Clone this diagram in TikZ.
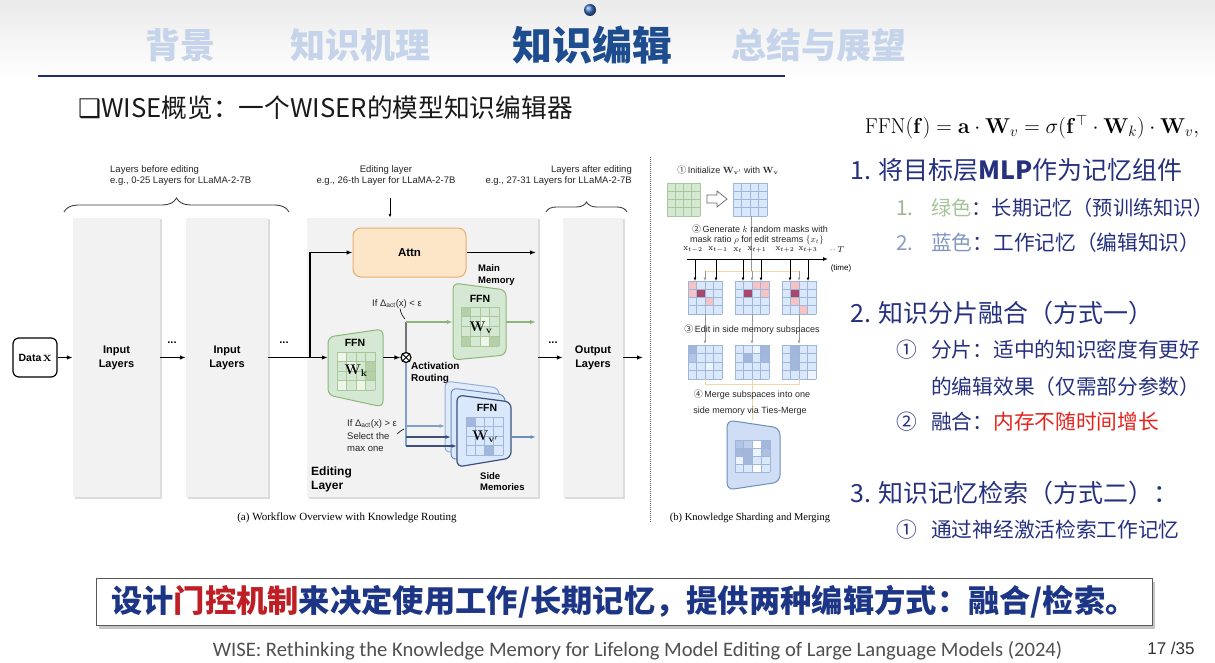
\RequirePackage{fix-cm}
\documentclass[tikz,border=0pt]{standalone}
\usepackage[no-math]{fontspec}
\setmainfont{Liberation Sans}
\newfontfamily\cjk{Noto Sans CJK SC}
\newfontfamily\serifen{Liberation Serif}
\newfontfamily\carl{Carlito}
\newfontfamily\dejavu{DejaVu Sans}
\usetikzlibrary{arrows.meta,shadows,calc,decorations.pathreplacing}

\definecolor{navyt}{HTML}{25307F}
\definecolor{tabl}{HTML}{C5D4EA}
\definecolor{tabd}{HTML}{1D4D8E}
\definecolor{hline}{HTML}{1F2F6A}
\definecolor{redt}{HTML}{E5231E}
\definecolor{boxred}{HTML}{BF1E24}
\definecolor{boxnavy}{HTML}{1C3585}
\definecolor{lgreen}{HTML}{A6C49A}
\definecolor{lgnum}{HTML}{9DB595}
\definecolor{lblue}{HTML}{8297C4}
\definecolor{lbnum}{HTML}{8B9CC3}
\definecolor{laygray}{HTML}{F2F2F2}
\definecolor{attnf}{HTML}{FDE5C8}
\definecolor{attnd}{HTML}{E6AE6E}
\definecolor{gfill}{HTML}{D5E8D4}
\definecolor{gdraw}{HTML}{8DB77A}
\definecolor{gdark}{HTML}{B5D0A8}
\definecolor{glite}{HTML}{EEF6EA}
\definecolor{gline}{HTML}{A9C99B}
\definecolor{bfill}{HTML}{DAE8FC}
\definecolor{bmerge}{HTML}{D0DEF5}
\definecolor{bdraw}{HTML}{6C8EBF}
\definecolor{bdark}{HTML}{A3B6DC}
\definecolor{blite}{HTML}{EEF4FD}
\definecolor{bline}{HTML}{9FB5DA}
\definecolor{bnavy}{HTML}{3F4F78}
\definecolor{pinkc}{HTML}{F6C3C5}
\definecolor{magc}{HTML}{A8466C}
\definecolor{brk}{HTML}{F2D7A6}
\definecolor{foot}{HTML}{505050}
\definecolor{dotblue}{HTML}{3A6FC4}

\newcommand{\mgrid}[7]{%
  \fill[#5] (#1,#2) rectangle ({#1+4*#3},{#2+4*#4});
  \foreach \ci/\cj/\cc in {#7}{\fill[fill=\cc] ({#1+\ci*#3},{#2+\cj*#4}) rectangle ({#1+(\ci+1)*#3},{#2+(\cj+1)*#4});}
  \foreach \gi in {0,...,4}{%
    \draw[#6,line width=0.6pt] ({#1+\gi*#3},#2) -- ({#1+\gi*#3},{#2+4*#4});
    \draw[#6,line width=0.6pt] (#1,{#2+\gi*#4}) -- ({#1+4*#3},{#2+\gi*#4});}%
}

\begin{document}
\begin{tikzpicture}[x=1pt,y=-1pt,
  arr/.style={-{Latex[length=6pt,width=4.5pt]},line width=1.3pt},
  garr/.style={arr,draw=gdraw},
  barr/.style={-{Latex[length=5.5pt,width=4pt]},line width=1.2pt},
  sarr/.style={-{Latex[length=3.5pt,width=3pt]},line width=0.7pt},
  layer/.style={fill=laygray,inner sep=0pt,font=\bfseries\fontsize{11}{14}\selectfont,align=center,
    drop shadow={shadow xshift=1.5pt,shadow yshift=-1.5pt,fill=black!30,opacity=.45}},
  lbl/.style={font=\fontsize{9.5}{10.5}\selectfont,inner sep=0pt,text=black!85},
  plbl/.style={font=\fontsize{9}{10}\selectfont,inner sep=0pt,text=black!85},
  blbl/.style={font=\bfseries\fontsize{10}{12}\selectfont,inner sep=0pt,align=left},
  ffn/.style={font=\bfseries\fontsize{10.5}{11}\selectfont,inner sep=0pt},
  tab/.style={font=\cjk\bfseries\fontsize{35}{35}\selectfont,text=tabl,inner sep=0pt},
  hd/.style={anchor=west,inner sep=0pt,font=\cjk\fontsize{25}{26}\selectfont,text=navyt},
  itm/.style={anchor=west,inner sep=0pt,font=\cjk\fontsize{20.7}{22}\selectfont,text=navyt},
  anchorbox/.style={inner sep=0pt,draw=none}
]
\useasboundingbox (0,0) rectangle (1215,663);
\fill[white] (0,0) rectangle (1215,663);
\shade[top color=black!8,bottom color=white] (0,0) rectangle (1215,80);

% ---------------- header ----------------
\shade[ball color=dotblue] (590,10) circle (6);
\node[tab] (t1) at (180,45) {背景};
\node[tab] (t2) at (360,45) {知识机理};
\node[tab,text=tabd,font=\cjk\bfseries\fontsize{40}{40}\selectfont] (t3) at (592,45) {知识编辑};
\node[tab] (t4) at (819,45) {总结与展望};
\draw[hline,line width=2pt] (38,76) -- (785,76);
\node[anchor=west,inner sep=0pt,font=\cjk\fontsize{25.7}{26}\selectfont,text=black!90] (sub) at (78,108)
  {{\dejavu ❑}WISE概览：一个WISER的模型知识编辑器};

% ---------------- panel (a) ----------------
\node[lbl,align=left,anchor=west] (lb1) at (110,175.5) {Layers before editing\\e.g., 0-25 Layers for LLaMA-2-7B};
\node[lbl,align=center] (lb2) at (386,175.5) {Editing layer\\e.g., 26-th Layer for LLaMA-2-7B};
\node[lbl,align=right,anchor=east] (lb3) at (632,175.5) {Layers after editing\\e.g., 27-31 Layers for LLaMA-2-7B};
\draw[decorate,decoration={brace,amplitude=14pt},line width=0.9pt,black!75] (64,212) -- (289,212);
\draw[decorate,decoration={brace,amplitude=10pt},line width=0.9pt,black!75] (546,212) -- (627,212);

\node[layer,minimum width=87pt,minimum height=279pt] (in1) at (116.5,357.5) {Input\\Layers};
\node[layer,minimum width=82pt,minimum height=279pt] (in2) at (227,357.5) {Input\\Layers};
\node[layer,minimum width=231pt,minimum height=279pt] (edit) at (422.5,357.5) {};
\node[layer,minimum width=60pt,minimum height=279pt] (outl) at (593,357.5) {Output\\Layers};

\node[draw,line width=1.2pt,rounded corners=6pt,minimum width=44pt,minimum height=39pt,inner sep=0pt,
  font=\bfseries\fontsize{10.5}{12}\selectfont] (data) at (35,357.5) {Data\,{\fontsize{14}{14}\selectfont$\mathbf{x}$}};
\draw[arr] (data.east) -- (in1.west);
\node[font=\bfseries\fontsize{11}{11}\selectfont,inner sep=0pt] (d1) at (172,343) {...};
\draw[arr] (in1.east) -- (in2.west);
\node[font=\bfseries\fontsize{11}{11}\selectfont,inner sep=0pt] (d2) at (284,343) {...};

\coordinate (ea) at (390,198);
\draw[-{Latex[length=4pt,width=3pt]},line width=0.8pt] (ea) -- (ea |- edit.north);

% Attn
\node[draw=attnd,fill=attnf,rounded corners=8pt,line width=1pt,minimum width=113pt,minimum height=49pt,
  font=\bfseries\fontsize{11.5}{12}\selectfont] (attn) at (409.5,252.5) {Attn};
\coordinate (jn) at (310,357.5);
\coordinate (aout) at (536,252.5);
\draw[arr] (jn) |- (attn.west);
\draw[arr] (attn.east) -- (aout);

% W_k FFN
\draw[draw=gdraw,fill=gfill,line width=1pt,rounded corners=6pt] (328,337) -- (383,329) -- (383,407) -- (328,395) -- cycle;
\node[anchorbox,minimum width=55pt,minimum height=50pt] (wk) at (355.5,357.5) {};
\node[ffn] (wkf) at (355,343) {FFN};
\mgrid{337}{352}{9.5}{9.5}{gfill}{gline}{0/0/glite,1/1/glite,3/1/gdark,3/2/gdark,0/3/glite,2/3/glite}
\node[inner sep=0pt,font=\fontsize{14}{14}\selectfont] (wkt) at (356,371) {$\mathbf{W_k}$};
\draw[arr] (in2.east) -- (wk.west);

% routing
\node[circle,draw,line width=1.2pt,minimum size=10pt,inner sep=0pt,fill=white] (rt) at (406,357.5) {};
\draw[line width=1pt] (rt.north east) -- (rt.south west) (rt.north west) -- (rt.south east);
\draw[arr] (wk.east) -- (rt.west);
\node[blbl,anchor=west] (act) at (411,373) {Activation\\Routing};

% main memory
\draw[draw=gdraw,fill=gfill,line width=1pt,rounded corners=6pt] (453,283) -- (506,290) -- (506,355) -- (453,360) -- cycle;
\node[anchorbox,minimum width=53pt,minimum height=60pt] (wvm) at (479.5,322) {};
\node[ffn] (wvf) at (480,299) {FFN};
\mgrid{461}{307}{9.5}{9.75}{gfill}{gline}{0/0/gdark,2/1/glite,0/3/gdark,2/3/glite,3/3/gdark}
\node[inner sep=0pt,font=\fontsize{14}{14}\selectfont] (wvt) at (481,328) {$\mathbf{W_v}$};
\node[blbl,anchor=west,font=\bfseries\fontsize{9.5}{12}\selectfont] (mm) at (478,275) {Main\\Memory};
\coordinate (gup) at (406,322);
\coordinate (mout) at (536,322);
\draw[line width=1.2pt,black!55] (rt.north) -- (gup);
\draw[garr] (gup) -- (wvm.west);
\draw[garr] (wvm.east) -- (mout);
\node[lbl] (ifl) at (397,304) {If Δ\textsubscript{act}(x) < ε};
\coordinate (gptr) at (405,319);
\draw[line width=0.6pt] ($(ifl.south)+(3,0)$) to[bend right=15] (gptr);

% side memories
\draw[draw=bdraw!70,fill=bfill!85!white,line width=1pt,rounded corners=6pt] (445,381) -- (499,388) -- (499,444) -- (445,453) -- cycle;
\draw[draw=bdraw,fill=bfill,line width=1pt,rounded corners=6pt] (451,388) -- (505,395) -- (505,451) -- (451,460) -- cycle;
\draw[draw=bnavy,fill=bfill,line width=1.2pt,rounded corners=6pt] (457,395) -- (511,402) -- (511,458) -- (457,467) -- cycle;
\node[anchorbox,minimum width=54pt,minimum height=56pt] (smf) at (484,437) {};
\node[ffn] (smff) at (487,408) {FFN};
\mgrid{466}{417}{9.25}{9.5}{bfill}{bline}{0/0/bdark,2/3/bdark}
\node[inner sep=0pt,font=\fontsize{14}{14}\selectfont] (smt) at (485,437) {$\mathbf{W}_{\mathbf{v}'}$};
\node[blbl,anchor=west,font=\bfseries\fontsize{9.5}{11}\selectfont] (sm) at (480,482) {Side\\Memories};
\coordinate (bdn) at (406,446);
\coordinate (b1) at (406,426);
\coordinate (b2) at (406,437);
\coordinate (s1) at (445,426);
\coordinate (s2) at (451,437);
\coordinate (s3) at (457,446);
\coordinate (sout) at (536,437);
\draw[line width=1.2pt,bdraw!85] (rt.south) -- (bdn);
\draw[barr,draw=bdraw!85] (b1) -- (s1);
\draw[barr,draw=bnavy] (b2) -- (s2);
\draw[barr,draw=bnavy] (bdn) -- (s3);
\draw[barr,draw=bdraw] (smf.east) -- (sout);
\node[lbl,align=left,anchor=west,font=\fontsize{9.5}{12.5}\selectfont] (ifg) at (347,436) {If Δ\textsubscript{act}(x) > ε\\Select the\\max one};
\coordinate (gptr2) at (404,429);
\draw[line width=0.6pt] ($(ifg.east)+(0,-2)$) to[bend left=10] (gptr2);

\node[blbl,anchor=west,font=\bfseries\fontsize{12}{14}\selectfont] (el) at (311,479) {Editing\\Layer};

\node[font=\bfseries\fontsize{11}{11}\selectfont,inner sep=0pt] (d3) at (553,343) {...};
\draw[arr] (edit.east) -- (outl.west);
\coordinate (oend) at (643,357.5);
\draw[arr] (outl.east) -- (oend);

\coordinate (sp1) at (650,157);
\coordinate (sp2) at (650,522);
\draw[densely dotted,line width=1pt,black!60] (sp1) -- (sp2);

\node[inner sep=0pt,font=\serifen\fontsize{11}{11}\selectfont] (capa) at (347,518) {(a) Workflow Overview with Knowledge Routing};
\node[inner sep=0pt,font=\serifen\fontsize{10.5}{11}\selectfont] (capb) at (750,518) {(b) Knowledge Sharding and Merging};

% ---------------- panel (b) ----------------
\node[plbl] (ini) at (728,170) {{\cjk ①}\,Initialize $\mathbf{W}_{\mathbf{v}'}$ with $\mathbf{W}_{\mathbf{v}}$};
\mgrid{667}{183}{8.25}{8.25}{gfill}{gline}{0/0/gfill}
\draw[black!60,fill=white,line width=0.7pt] (707,195) -- (717,195) -- (717,191) -- (727,199) -- (717,207) -- (717,203) -- (707,203) -- cycle;
\mgrid{733}{183}{8.5}{8.25}{bfill}{bline}{0/0/bfill}
\coordinate (vg1) at (751,216);
\coordinate (vg2) at (751,271);
\draw[black!40,line width=0.7pt] (vg1) -- (vg2);
\node[plbl] (gen1) at (760,229) {{\cjk ②}\,Generate $k$ random masks with};
\node[plbl] (gen2) at (757,240) {mask ratio $\rho$ for edit streams $\{x_t\}$};
\foreach \xx/\tsub in {693/{t-2},718/{t-1},738/t,757/{t+1},785/{t+2},808/{t+3}}
  \node[inner sep=0pt,font=\fontsize{8.5}{9}\selectfont] at (\xx,250) {$\mathrm{x}_{\tsub}$};
\node[inner sep=0pt,font=\fontsize{8.5}{9}\selectfont] (tdots) at (837,250) {$\cdot\!\cdot T$};
\coordinate (tl0) at (687,259);
\coordinate (tl1) at (828,259);
\draw[-{Latex[length=5pt,width=4pt]},line width=1pt] (tl0) -- (tl1);
\node[inner sep=0pt,font=\fontsize{8}{9}\selectfont] (tim) at (841,268) {(time)};
\draw[brk,line width=0.9pt] (705,271) -- (799,271);
\foreach \xx in {705,752,799} \draw[sarr,black!40] (\xx,271) -- (\xx,281);
\foreach \xx in {695,716,743,761,790,808} \draw[sarr,black] (\xx,259) -- (\xx,281);
\mgrid{688}{281}{8.5}{8.25}{bfill}{bline}{0/0/pinkc,0/1/pinkc,1/1/magc,2/2/pinkc}
\mgrid{735}{281}{8.5}{8.25}{bfill}{bline}{2/0/pinkc,3/0/pinkc,1/1/magc,3/1/pinkc}
\mgrid{782}{281}{8.5}{8.25}{bfill}{bline}{1/0/pinkc,1/1/magc,1/2/pinkc,2/3/pinkc}
\foreach \xx in {705,752,799} \draw[sarr,black!40] (\xx,314) -- (\xx,344);
\node[plbl] (edt) at (752,330) {{\cjk ③}\,Edit in side memory subspaces};
\mgrid{688}{345}{8.5}{8.5}{bfill}{bline}{0/0/bdark,0/1/bdark!70!bfill,2/2/blite}
\mgrid{735}{345}{8.5}{8.5}{bfill}{bline}{1/1/bdark,2/0/blite,3/0/bdark,3/1/bdark}
\mgrid{782}{345}{8.5}{8.5}{bfill}{bline}{1/0/bdark,1/1/bdark,1/2/bdark,3/3/blite}
\draw[brk,line width=0.9pt] (705,379) -- (705,384) -- (799,384) -- (799,379);
\draw[brk,line width=0.9pt] (752,379) -- (752,420);
\node[plbl] (mg1) at (752,395) {{\cjk ④}\,Merge subspaces into one};
\node[plbl] (mg2) at (750,411) {side memory via Ties-Merge};
\draw[draw=bdraw,fill=bmerge,line width=1pt,rounded corners=7pt] (727,420) -- (780,428) -- (780,482) -- (727,490) -- cycle;
\mgrid{735}{440}{8.75}{8}{bfill}{bline}{0/0/bdark!70!bfill,1/0/bdark!50!bfill,2/0/white,3/0/bdark,0/1/bdark,1/1/bdark,2/1/blite,3/1/bdark!80!bfill,1/2/bdark,0/2/blite,2/3/white}

% ---------------- right text ----------------
\node[inner sep=0pt,font=\fontsize{21.5}{22}\selectfont] (fml) at (1032,127)
  {$\mathrm{FFN}(\mathbf{f})=\mathbf{a}\cdot\mathbf{W}_v=\sigma(\mathbf{f}^{\top}\cdot\mathbf{W}_k)\cdot\mathbf{W}_v,$};
\node[hd] (h1) at (850,170) {1. 将目标层{\bfseries MLP}作为记忆组件};
\node[itm,text=lgnum] (n11) at (896,208) {1.};
\node[itm,font=\cjk\fontsize{20.2}{22}\selectfont] (i11) at (931,208) {{\color{lgreen}绿色}：长期记忆（预训练知识）};
\node[itm,text=lbnum] (n12) at (896,243) {2.};
\node[itm] (i12) at (931,243) {{\color{lblue}蓝色}：工作记忆（编辑知识）};
\node[hd] (h2) at (850,313) {2. 知识分片融合（方式一）};
\node[itm] (n21) at (896,350) {①};
\node[itm] (i21) at (931,350) {分片：适中的知识密度有更好};
\node[itm] (i21b) at (931,387) {的编辑效果（仅需部分参数）};
\node[itm] (n22) at (896,422) {②};
\node[itm] (i22) at (931,422) {融合：{\color{redt}内存不随时间增长}};
\node[hd] (h3) at (850,493) {3. 知识记忆检索（方式二）：};
\node[itm] (n31) at (896,530) {①};
\node[itm] (i31) at (931,530) {通过神经激活检索工作记忆};

% ---------------- conclusion box ----------------
\node[draw=black!65,fill=white,line width=0.9pt,minimum width=1056pt,minimum height=47pt,inner sep=0pt,
  drop shadow={shadow xshift=3pt,shadow yshift=-4pt,fill=black!50,opacity=.45},
  font=\cjk\bfseries\fontsize{31.3}{32}\selectfont,text=boxnavy] (concl) at (624,601.5)
  {设计{\color{boxred}门控机制}来决定使用工作/长期记忆，提供两种编辑方式：融合/检索。};

\node[inner sep=0pt,font=\carl\fontsize{20.6}{21}\selectfont,text=foot] (ft) at (637.5,651)
  {WISE: Rethinking the Knowledge Memory for Lifelong Model Editing of Large Language Models (2024)};
\node[inner sep=0pt,font=\fontsize{17}{17}\selectfont,text=black!80] (pg) at (1171,648) {17 /35};
\end{tikzpicture}
\end{document}
